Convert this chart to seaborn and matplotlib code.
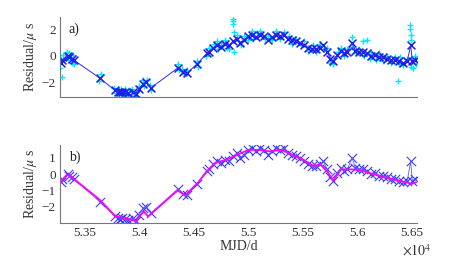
import pandas as pd
import seaborn as sns
import matplotlib.pyplot as plt

# timing residuals (blue crosses, shared by both panels)
mjd = [53280, 53290, 53340, 53355, 53380, 53395, 53640, 53775, 53803, 53821,
       53840, 53867, 53895, 53940, 53968, 53996, 54033, 54060, 54106, 54354,
       54400, 54437, 54529, 54621, 54639, 54676, 54713, 54750, 54786, 54823,
       54860, 54897, 54924, 54961, 54998, 55034, 55071, 55108, 55145, 55182,
       55218, 55255, 55292, 55329, 55365, 55402, 55439, 55476, 55512, 55549,
       55586, 55623, 55659, 55687, 55724, 55751, 55779, 55816, 55852, 55880,
       55907, 55953, 55981, 56018, 56054, 56091, 56128, 56165, 56202, 56238,
       56275, 56312, 56349, 56385, 56422, 56459, 56490, 56505, 56532]
resid = [-0.5, -0.3, 0.0, -0.1, -0.2, -0.3, -1.7, -2.6, -2.7, -2.75,
         -2.7, -2.75, -2.8, -2.7, -2.9, -2.5, -2.1, -2.0, -2.4, -0.9,
         -1.2, -1.3, -0.6, 0.2, 0.3, 0.6, 0.8, 0.7, 0.9, 0.8,
         1.1, 1.3, 1.0, 1.2, 1.5, 1.6, 1.4, 1.6, 1.5, 1.2,
         1.4, 1.6, 1.5, 1.6, 1.3, 1.2, 1.1, 1.0, 0.8, 0.6,
         0.5, 0.5, 0.6, 0.8, 0.3, -0.2, -0.4, 0.1, 0.4, 0.2,
         0.3, 1.0, 0.4, 0.3, 0.3, 0.2, 0.0, 0.1, -0.1, -0.1,
         -0.2, -0.3, -0.3, -0.4, -0.5, -0.4, 0.8, -0.4, -0.3]

# raw residuals (cyan pluses, panel a)
cyan_mjd = [53275, 53285, 53282, 53300, 53335, 53345, 53350, 53385, 53390, 53400,
            53630, 53645, 53770, 53785, 53800, 53810, 53830, 53845, 53870, 53890,
            53900, 53935, 53945, 53965, 53975, 54000, 54030, 54040, 54065, 54100,
            54110, 54350, 54360, 54395, 54405, 54440, 54530, 54535, 54615, 54640,
            54680, 54710, 54720, 54745, 54790, 54800, 54825, 54855, 54860, 54862,
            54865, 54870, 54900, 54930, 54960, 55000, 55030, 55040, 55075, 55110,
            55150, 55180, 55220, 55250, 55290, 55330, 55370, 55400, 55440, 55480,
            55510, 55550, 55590, 55620, 55660, 55690, 55720, 55750, 55780, 55820,
            55850, 55880, 55910, 55950, 55955, 55985, 56020, 56050, 56060, 56090,
            56120, 56130, 56170, 56200, 56240, 56270, 56310, 56350, 56375, 56380,
            56390, 56420, 56460, 56485, 56488, 56490, 56492, 56495, 56510, 56530,
            56540]
cyan_res = [-0.9, -1.6, -0.2, 0.1, 0.3, -0.3, 0.2, -0.5, 0.1, -0.6,
            -1.9, -1.4, -2.4, -2.8, -2.5, -2.9, -2.5, -2.95, -2.5, -2.9,
            -2.6, -2.5, -2.95, -2.7, -3.0, -2.3, -1.8, -2.3, -1.8, -2.2,
            -2.6, -0.6, -1.1, -1.0, -1.4, -1.1, -0.4, -0.8, 0.0, 0.6,
            0.9, 1.1, 0.5, 1.0, 1.2, 0.6, 0.5, 2.8, 2.6, 2.4,
            1.8, 0.3, 1.6, 0.8, 1.5, 1.2, 1.9, 1.3, 1.7, 1.9,
            1.3, 1.5, 1.2, 1.9, 1.3, 1.8, 1.5, 0.9, 1.3, 0.8,
            1.1, 0.4, 0.8, 0.3, 0.9, 0.5, 0.6, -0.5, -0.6, 0.3,
            0.6, 0.0, 0.5, 1.4, 0.7, 0.2, 0.5, 1.1, 0.0, 1.2,
            -0.2, 0.3, -0.3, 0.2, -0.4, 0.0, -0.5, -0.1, -1.9, -0.6,
            -0.1, -0.7, -0.2, 2.3, 2.0, 1.6, 1.2, -0.8, -0.9, 0.0,
            -0.6]

# smoothed residuals (magenta line, panel b)
fit_mjd = [53280, 53340, 53400, 53640, 53780, 53900, 53965, 54000, 54040, 54080,
           54350, 54420, 54540, 54620, 54700, 54800, 54900, 55000, 55100, 55200,
           55300, 55400, 55500, 55600, 55660, 55720, 55780, 55850, 55950, 56050,
           56150, 56250, 56350, 56450, 56500, 56540]
fit_res = [-0.5, 0.0, -0.3, -1.6, -2.6, -2.75, -2.9, -2.6, -2.3, -2.6,
           -1.0, -1.3, -0.5, 0.2, 0.7, 0.9, 1.2, 1.5, 1.5, 1.4,
           1.5, 1.2, 0.9, 0.5, 0.6, 0.2, -0.4, 0.3, 0.3, 0.2,
           0.0, -0.2, -0.35, -0.5, -0.6, -0.5]

sns.set_style('white')
plt.rcParams['font.family'] = ['Liberation Serif', 'DejaVu Serif']
plt.rcParams['mathtext.fontset'] = 'stix'
plt.rcParams['font.size'] = 9.5

data = pd.DataFrame({'MJD': mjd, 'Residual': resid})
raw = pd.DataFrame({'MJD': cyan_mjd, 'Residual': cyan_res})
fit = pd.DataFrame({'MJD': fit_mjd, 'Residual': fit_res})

fig = plt.figure(figsize=(4.61, 2.66), dpi=100)
ax1 = fig.add_axes([0.130, 0.635, 0.775, 0.300])
ax2 = fig.add_axes([0.130, 0.162, 0.775, 0.293])

# panel a
sns.scatterplot(data=raw, x='MJD', y='Residual', ax=ax1, marker='+', s=20,
                color='#00e8ff', linewidth=1.0)
sns.lineplot(data=data, x='MJD', y='Residual', ax=ax1, sort=False, estimator=None,
             color='#2b2bff', linewidth=0.7)
sns.scatterplot(data=data, x='MJD', y='Residual', ax=ax1, marker='x', s=32,
                color='#1a1ae6', linewidth=1.1)

# panel b
sns.lineplot(data=data, x='MJD', y='Residual', ax=ax2, sort=False, estimator=None,
             color='#5a5aff', linewidth=0.6)
sns.lineplot(data=fit, x='MJD', y='Residual', ax=ax2, sort=False, estimator=None,
             color='#ff00ff', linewidth=1.3)
sns.scatterplot(data=data, x='MJD', y='Residual', ax=ax2, marker='x', s=45,
                color='#3a3aff', linewidth=0.8)

xticks = [53500, 54000, 54500, 55000, 55500, 56000, 56500]
for ax in (ax1, ax2):
    ax.set_xlim(53270, 56550)
    ax.set_xticks(xticks)
    ax.spines['top'].set_visible(False)
    ax.spines['right'].set_visible(False)
    for s in ('left', 'bottom'):
        ax.spines[s].set_color('#777777')
        ax.spines[s].set_linewidth(0.8)
    ax.tick_params(direction='in', length=3, width=0.7, colors='#777777',
                   labelcolor='#333333', labelsize=9.5, pad=3)
    ax.set_ylabel(r'Residual/$\mu$ s', color='#333333', fontsize=10, labelpad=2)
    ax.set_xlabel('')

ax1.set_ylim(-3.1, 2.9)
ax1.set_yticks([-2, 0, 2])
ax1.set_xticklabels([])
ax1.text(0.025, 0.80, 'a)', transform=ax1.transAxes, fontsize=10, color='#222222')

ax2.set_ylim(-3.0, 1.8)
ax2.set_yticks([-2, -1, 0, 1])
ax2.set_xticklabels(['5.35', '5.4', '5.45', '5.5', '5.55', '5.6', '5.65'])
ax2.set_xlabel('MJD/d', color='#333333', fontsize=10, labelpad=1)
ax2.text(0.025, 0.80, 'b)', transform=ax2.transAxes, fontsize=10, color='#222222')
ax2.text(1.0, -0.36, r'$\times10^4$', transform=ax2.transAxes, ha='center',
         va='center', fontsize=10, color='#333333')

fig.savefig('out.png', dpi=100)
